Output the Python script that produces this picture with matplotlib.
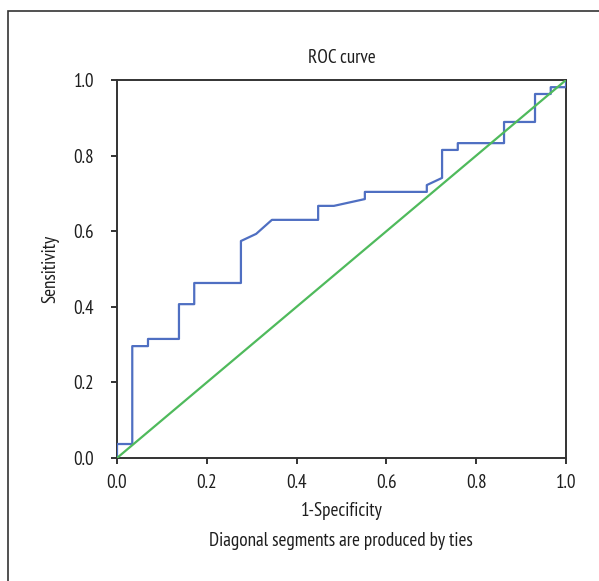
import matplotlib.pyplot as plt
from matplotlib.patches import Rectangle

plt.rcParams['font.family'] = ['Myriad Pro', 'PT Sans Narrow', 'Open Sans Condensed',
                               'Fira Sans Condensed', 'Roboto Condensed',
                               'Barlow Semi Condensed', 'DejaVu Sans']

# ROC curve points (1-specificity, sensitivity)
fpr = [0.0, 0.0, 0.034, 0.034, 0.069, 0.069, 0.138, 0.138, 0.172, 0.172,
       0.276, 0.276, 0.310, 0.345, 0.448, 0.448, 0.483, 0.552, 0.552,
       0.690, 0.690, 0.724, 0.724, 0.759, 0.759, 0.862, 0.862, 0.931,
       0.931, 0.966, 0.966, 1.0, 1.0]
tpr = [0.0, 0.037, 0.037, 0.296, 0.296, 0.315, 0.315, 0.407, 0.407, 0.463,
       0.463, 0.574, 0.593, 0.630, 0.630, 0.667, 0.667, 0.685, 0.704,
       0.704, 0.722, 0.741, 0.815, 0.815, 0.833, 0.833, 0.889, 0.889,
       0.963, 0.963, 0.981, 0.981, 1.0]
ref_x = [0.0, 1.0]
ref_y = [0.0, 1.0]
ticks = [0.0, 0.2, 0.4, 0.6, 0.8, 1.0]

txt = '#1e1e1e'
fs = 13.8
fig = plt.figure(figsize=(5.99, 5.81), dpi=100)
ax = fig.add_axes([117 / 599, 1 - 458 / 581, 449 / 599, 378 / 581])

ax.plot(fpr, tpr, color='#4f6fc2', lw=1.6, zorder=3)
ax.plot(ref_x, ref_y, color='#4fba5c', lw=1.6, zorder=4)

ax.set_xlim(0, 1)
ax.set_ylim(0, 1)
ax.set_xticks(ticks)
ax.set_yticks(ticks)
ax.set_xticklabels([f'{t:.1f}' for t in ticks])
ax.set_yticklabels([f'{t:.1f}' for t in ticks])
ax.tick_params(direction='out', length=4.5, width=1.4, color='#333333',
               labelsize=fs, labelcolor=txt)
ax.tick_params(axis='x', pad=7)
ax.tick_params(axis='y', pad=12)
for s in ax.spines.values():
    s.set_color('#333333')
    s.set_linewidth(1.4)

ax.set_title('ROC curve', fontsize=fs, color=txt, pad=12)
ax.set_xlabel('1-Specificity', fontsize=fs, color=txt, labelpad=7)
ax.set_ylabel('Sensitivity', fontsize=fs, color=txt, labelpad=10)
fig.text(341 / 599, 1 - 541 / 581, 'Diagonal segments are produced by ties',
         fontsize=fs, color=txt, ha='center', va='center')

# outer frame, cropped at right and bottom
fig.patches.append(Rectangle((8 / 599, -0.1), 1.2, 1.1 - 11 / 581,
                             transform=fig.transFigure, fill=False,
                             edgecolor='#333333', lw=1.2))

plt.savefig('out.png', dpi=100)
